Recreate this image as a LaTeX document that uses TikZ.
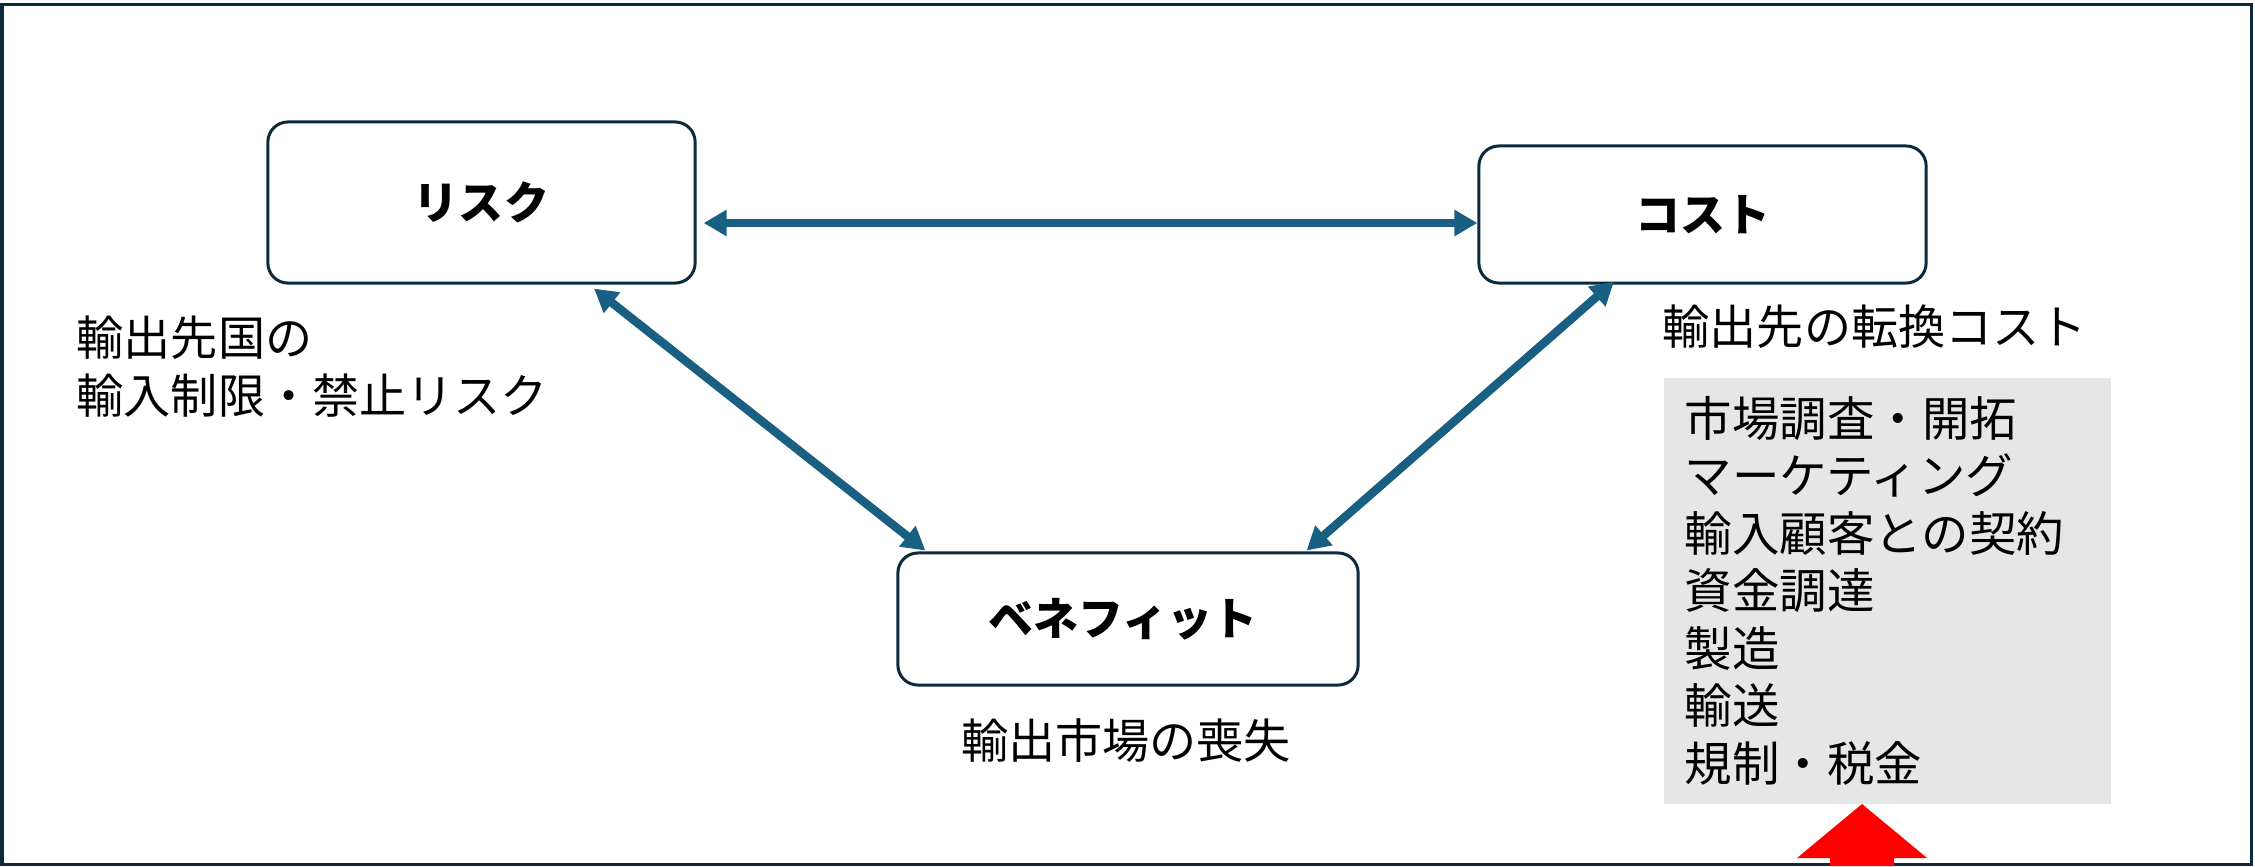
\documentclass[tikz,border=0pt]{standalone}
\usepackage{fontspec}
\setmainfont{Noto Sans CJK JP}
\usetikzlibrary{arrows.meta}
\definecolor{frameC}{HTML}{0C2A3B}
\definecolor{arrC}{HTML}{185F82}
\definecolor{grayC}{HTML}{E6E6E6}
\begin{document}
\begin{tikzpicture}[x=0.01cm,y=-0.01cm,
  box/.style={draw=frameC, line width=0.03cm, rounded corners=0.2cm, fill=white, inner sep=0,
    font=\fontsize{12.8}{14}\selectfont\bfseries},
  lbl/.style={inner sep=0, font=\fontsize{13.4}{16.5}\selectfont, align=left},
  link/.style={draw=arrC, line width=0.085cm,
    {Triangle[length=0.23cm,width=0.25cm]}-{Triangle[length=0.23cm,width=0.25cm]}},
  listbox/.style={fill=grayC, minimum width=4.47cm, minimum height=4.26cm, inner xsep=0.21cm,
    inner ysep=0, text width=4.05cm, align=left, font=\fontsize{13.5}{16.35}\selectfont},
]
\useasboundingbox (0,0) rectangle (2255,866);
\draw[frameC, line width=0.03cm] (2,4.5) rectangle (2251,864.5);

\node[box, minimum width=4.27cm, minimum height=1.61cm] (risk) at (481.5,202.5) {\raisebox{-0.06cm}{リスク}};
\node[box, minimum width=4.47cm, minimum height=1.37cm] (cost) at (1702.5,214.5) {コスト};
\node[box, minimum width=4.60cm, minimum height=1.32cm] (benefit) at (1128,619) {\hspace*{-0.1cm}ベネフィット};

\node[lbl, anchor=west] (riskLbl) at (76,367) {輸出先国の\\輸入制限・禁止リスク};
\node[lbl, anchor=west] (costLbl) at (1662,327) {輸出先の転換コスト};
\node[lbl] (benLbl) at (1126,741) {輸出市場の喪失};
\node[listbox, anchor=north west] (list) at (1663,377)
  {市場調査・開拓\\マーケティング\\輸入顧客との契約\\資金調達\\製造\\輸送\\規制・税金};

\draw[link] ([shift={(7,20.5)}]risk.east) -- ([shift={(0,8.5)}]cost.west);
\draw[link] ([shift={(112.5,4)}]risk.south) -- ([shift={(29,-1)}]benefit.north west);
\draw[link] ([shift={(-88.5,-3)}]cost.south) -- ([shift={(-53,-1)}]benefit.north east);

\fill[red] (1862,804) -- (1927,858) -- (1894,858) -- (1894,866) -- (1830,866)
  -- (1830,858) -- (1797,858) -- cycle;
\end{tikzpicture}
\end{document}
